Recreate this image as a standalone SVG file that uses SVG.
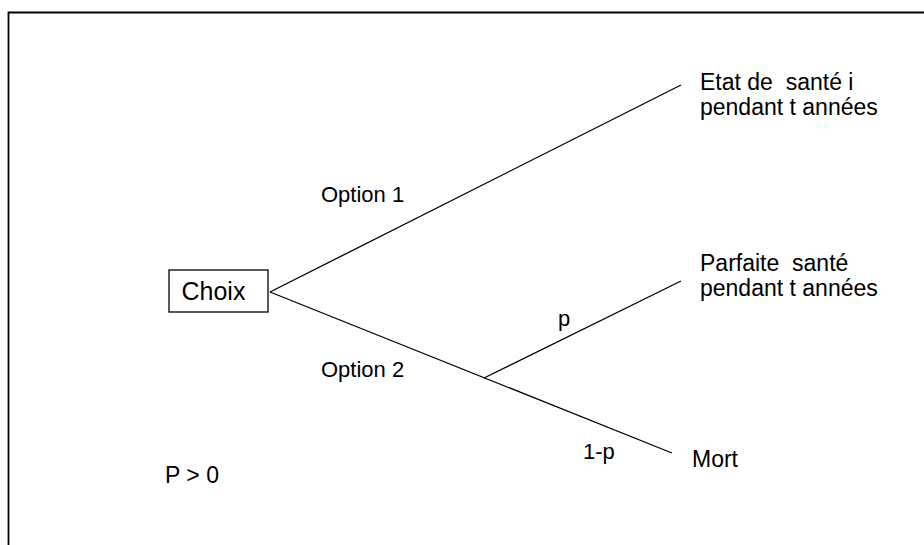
<svg xmlns="http://www.w3.org/2000/svg" width="924" height="545" viewBox="0 0 924 545">
<style>
text { font-family: "Liberation Sans", Arial, sans-serif; font-size: 23px; fill: #000; }
.opt { font-size: 22px; }
.big { font-size: 25px; }
.ln { stroke: #000; stroke-width: 1.3; fill: none; }
</style>
<rect width="924" height="545" fill="#fff"/>
<path d="M8.5,545 V12.5 H924" fill="none" stroke="#000" stroke-width="1.8"/>
<g id="connectors">
<line class="ln" x1="270" y1="292" x2="681" y2="85"/>
<line class="ln" x1="270" y1="292" x2="672" y2="453"/>
<line class="ln" x1="484" y1="378" x2="681" y2="281"/>
</g>
<g id="choix">
<rect x="169" y="270" width="99" height="42" fill="#fff" stroke="#000" stroke-width="1.3"/>
<text class="big" x="181.5" y="300">Choix</text>
</g>
<g id="etat">
<text x="700" y="89.5" xml:space="preserve">Etat de  santé i</text>
<text x="700" y="114.5">pendant t années</text>
</g>
<g id="parfaite">
<text x="700" y="270.5" xml:space="preserve">Parfaite  santé</text>
<text x="700" y="295.5">pendant t années</text>
</g>
<g id="mort">
<text x="692" y="467">Mort</text>
</g>
<g id="labels">
<text class="opt" x="321" y="202">Option 1</text>
<text class="opt" x="321" y="377">Option 2</text>
<text class="opt" x="558" y="326">p</text>
<text class="opt" x="583" y="459">1-p</text>
<text x="165" y="483">P &gt; 0</text>
</g>
</svg>
